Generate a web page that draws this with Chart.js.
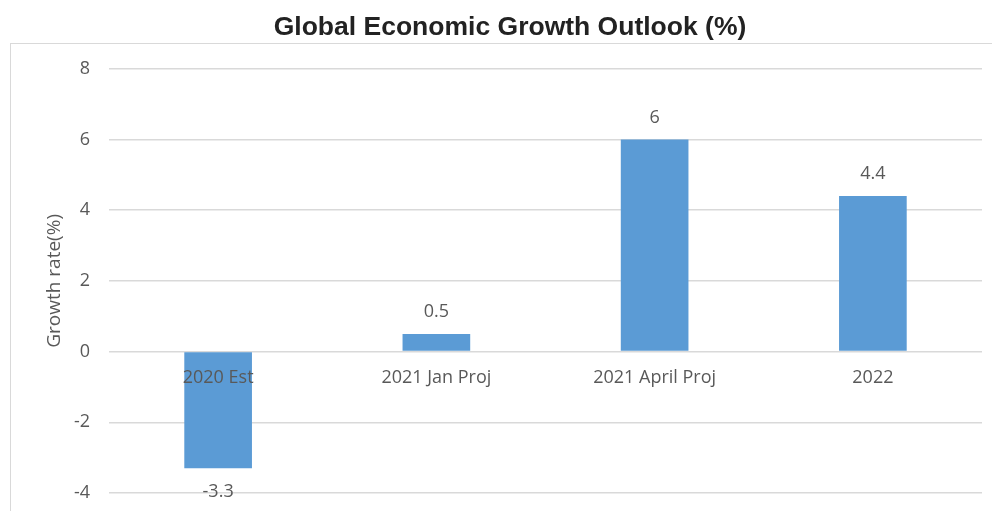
<!DOCTYPE html>
<html>
<head>
<meta charset="utf-8">
<title>Global Economic Growth Outlook</title>
<script src="https://cdn.jsdelivr.net/npm/chart.js@4.4.1/dist/chart.umd.min.js"></script>
<style>
  body { margin: 0; background: #fff; overflow: hidden; }
  #wrap { width: 992px; height: 511px; overflow: hidden; }
</style>
</head>
<body>
<div id="wrap">
  <canvas id="growthChart" width="1020" height="511"></canvas>
</div>
<script>
  const categories = ['2020 Est', '2021 Jan Proj', '2021 April Proj', '2022'];
  const growthRates = [-3.3, 0.5, 6, 4.4];
  const yTicks = [-4, -2, 0, 2, 4, 6, 8];

  const textGrey = '#595959';
  const axisFont = { family: 'Open Sans', size: 18 };

  // light grey frame round the plot, like a spreadsheet chart box
  const framePlugin = {
    id: 'frame',
    beforeDraw(chart) {
      const ctx = chart.ctx;
      ctx.save();
      ctx.strokeStyle = '#d9d9d9';
      ctx.lineWidth = 1;
      ctx.strokeRect(10.5, 43.5, chart.width + 20, chart.height + 20);
      ctx.restore();
    }
  };

  // value above positive bars, below negative ones
  const valueLabels = {
    id: 'valueLabels',
    afterDatasetsDraw(chart) {
      const ctx = chart.ctx;
      const meta = chart.getDatasetMeta(0);
      ctx.save();
      ctx.font = '18px "Open Sans"';
      ctx.fillStyle = textGrey;
      ctx.textAlign = 'center';
      ctx.textBaseline = 'middle';
      meta.data.forEach((bar, i) => {
        const v = growthRates[i];
        const y = v >= 0 ? bar.y - 22 : bar.y + 24;
        ctx.fillText(String(v), bar.x, y);
      });
      ctx.restore();
    }
  };

  // keep the axes from reserving extra room, the padding below sets it
  function noPad(scale) {
    scale.paddingTop = 0;
    scale.paddingBottom = 0;
    scale.paddingLeft = 0;
    scale.paddingRight = 0;
  }

  const ctx = document.getElementById('growthChart').getContext('2d');
  new Chart(ctx, {
    type: 'bar',
    data: {
      labels: categories,
      datasets: [{
        label: 'Growth rate(%)',
        data: growthRates,
        backgroundColor: '#5b9bd5',
        barPercentage: 0.31,
        categoryPercentage: 1
      }]
    },
    options: {
      responsive: false,
      animation: false,
      devicePixelRatio: 1,
      layout: { padding: { left: 38, right: 38, top: 0, bottom: 18 } },
      plugins: {
        legend: { display: false },
        tooltip: { enabled: false },
        title: {
          display: true,
          text: 'Global Economic Growth Outlook (%)',
          color: '#222222',
          font: { family: 'Liberation Sans', size: 26.5, weight: 'bold' },
          padding: { top: 12, bottom: 25 }
        }
      },
      scales: {
        x: {
          position: { y: 0 },
          grid: { display: false, drawTicks: false },
          border: { display: false },
          ticks: { color: textGrey, font: axisFont, padding: 15, maxRotation: 0, autoSkip: false, z: 1 },
          afterFit: scale => { scale.height = 0; noPad(scale); }
        },
        y: {
          min: yTicks[0],
          max: yTicks[yTicks.length - 1],
          afterBuildTicks: scale => { scale.ticks = yTicks.map(v => ({ value: v })); },
          grid: { color: '#d9d9d9', lineWidth: 1.5, drawTicks: false },
          border: { display: false },
          ticks: { color: textGrey, font: axisFont, padding: 19 },
          title: {
            display: true,
            text: 'Growth rate(%)',
            color: textGrey,
            font: { family: 'Open Sans', size: 19 },
            padding: { top: 5, bottom: 0 }
          },
          afterFit: scale => { scale.width = 71; noPad(scale); }
        }
      }
    },
    plugins: [framePlugin, valueLabels]
  });
</script>
</body>
</html>
